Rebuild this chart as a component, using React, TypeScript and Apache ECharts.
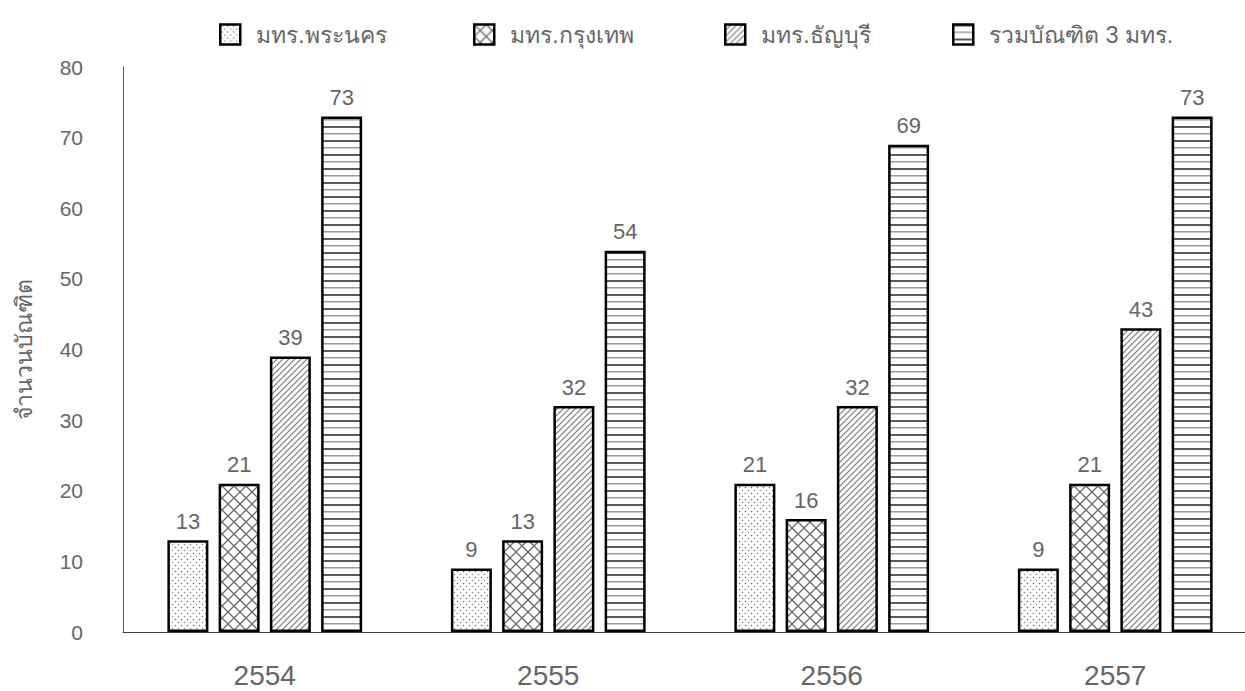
import React, { useEffect, useRef } from "react";
import * as echarts from "echarts";

const categories = ["2554", "2555", "2556", "2557"];
const seriesNames = ["มทร.พระนคร", "มทร.กรุงเทพ", "มทร.ธัญบุรี", "รวมบัณฑิต 3 มทร."];
const phraNakhon = [13, 9, 21, 9];
const krungthep = [21, 13, 16, 21];
const thanyaburi = [39, 32, 32, 43];
const total = [73, 54, 69, 73];
const yAxisName = "จำนวนบัณฑิต";

const svgUrl = (w: number, h: number, body: string) =>
  "data:image/svg+xml;charset=utf-8," +
  encodeURIComponent(
    `<svg xmlns="http://www.w3.org/2000/svg" width="${w}" height="${h}"><rect width="${w}" height="${h}" fill="#ffffff"/>${body}</svg>`
  );

const patterns = [
  {
    image: svgUrl(6, 6, `<circle cx="1.5" cy="1.5" r="0.8" fill="#6f6f6f"/><circle cx="4.5" cy="4.5" r="0.8" fill="#8a8a8a"/>`),
    w: 6,
    h: 6,
  },
  {
    image: svgUrl(
      12,
      12,
      `<path d="M0 0 L12 12 M12 0 L0 12" stroke="#6a6a6a" stroke-width="1.3" fill="none"/>`
    ),
    w: 12,
    h: 12,
  },
  {
    image: svgUrl(
      6,
      6,
      `<path d="M-1 7 L7 -1 M-1 1 L1 -1 M5 7 L7 5" stroke="#7a7a7a" stroke-width="1.2" fill="none"/>`
    ),
    w: 6,
    h: 6,
  },
  {
    image: svgUrl(
      8,
      14,
      `<rect x="0" y="0" width="8" height="2" fill="#5a5a5a"/><rect x="0" y="7" width="8" height="1.5" fill="#9a9a9a"/>`
    ),
    w: 8,
    h: 14,
  },
];

const values = [phraNakhon, krungthep, thanyaburi, total];
const legendLefts = [214, 468, 719, 947];

const FONT = "'Liberation Sans', Arial, 'Noto Sans', sans-serif";
const GRAY = "#666666";

export default function App() {
  const ref = useRef<HTMLDivElement>(null);
  useEffect(() => {
    if (!ref.current) return;
    const chart = echarts.init(ref.current, null, { renderer: "svg" });
    chart.setOption({
      animation: false,
      backgroundColor: "#ffffff",
      textStyle: { fontFamily: FONT },
      legend: seriesNames.map((n, i) => ({
        data: [n],
        left: legendLefts[i],
        top: 18,
        itemWidth: 20,
        itemHeight: 20,
        itemGap: 6,
        icon: "rect",
        itemStyle: { borderColor: "#000000", borderWidth: 2.5 },
        textStyle: {
          fontSize: 23,
          color: GRAY,
          fontFamily: FONT,
          padding: [0, 0, 0, 11],
        },
      })),
      grid: { left: 123, right: 0, top: 67, bottom: 59, containLabel: false },
      xAxis: {
        type: "category",
        data: categories,
        axisLine: { lineStyle: { color: "#404040", width: 1 } },
        axisTick: { show: false },
        axisLabel: { fontSize: 28, color: GRAY, margin: 29, fontFamily: FONT },
      },
      yAxis: {
        type: "value",
        min: 0,
        max: 80,
        interval: 10,
        name: yAxisName,
        nameLocation: "middle",
        nameGap: 88,
        nameTextStyle: { fontSize: 23, color: GRAY, fontFamily: FONT },
        axisLine: { show: true, lineStyle: { color: "#595959", width: 1 } },
        axisTick: { show: false },
        splitLine: { show: false },
        axisLabel: { fontSize: 21, color: GRAY, margin: 40, fontFamily: FONT },
      },
      series: seriesNames.map((n, i) => ({
        name: n,
        type: "bar",
        data: values[i],
        barWidth: 41,
        barGap: "25%",
        itemStyle: {
          color: {
            image: patterns[i].image,
            repeat: "repeat",
            imageWidth: patterns[i].w,
            imageHeight: patterns[i].h,
          },
          borderColor: "#000000",
          borderWidth: 2.5,
        },
        label: {
          show: true,
          position: "top",
          distance: 8,
          fontSize: 22,
          color: GRAY,
          fontFamily: FONT,
        },
      })),
    });
    return () => chart.dispose();
  }, []);
  return (
    <div
      style={{
        position: "fixed",
        left: 0,
        top: 0,
        width: 1245,
        height: 691,
        overflow: "hidden",
        background: "#fff",
      }}
    >
      <div ref={ref} style={{ width: 1257, height: 691 }} />
    </div>
  );
}
